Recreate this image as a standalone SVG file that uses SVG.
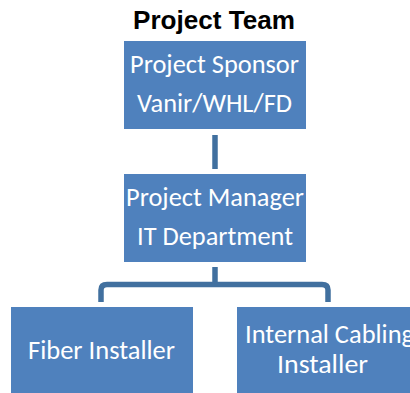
<svg xmlns="http://www.w3.org/2000/svg" width="410" height="393" viewBox="0 0 410 393">
  <style>
    .box { fill: #4F81BD; }
    .lbl { font-family: Carlito, "Open Sans", "Noto Sans", sans-serif; font-size: 26px; fill: #FFFFFF; }
    .title { font-family: "Liberation Sans", Arial, sans-serif; font-size: 25px; font-weight: bold; fill: #000000; }
    .conn { fill: none; stroke: #41709F; stroke-width: 5.5; stroke-linejoin: round; }
  </style>
  <rect width="410" height="393" fill="#FFFFFF"/>

  <text class="title" x="133" y="29" textLength="162" lengthAdjust="spacingAndGlyphs">Project Team</text>

  <g id="connectors">
    <line class="conn" x1="215" y1="135" x2="215" y2="169"/>
    <line class="conn" x1="215" y1="267" x2="215" y2="284"/>
    <path class="conn" d="M101 302 V290 Q101 284.5 107 284.5 H322 Q328 284.5 328 290 V302"/>
  </g>

  <g id="sponsor">
    <rect class="box" x="124" y="41" width="182" height="88"/>
    <text class="lbl" x="130" y="73" textLength="169" lengthAdjust="spacingAndGlyphs">Project Sponsor</text>
    <text class="lbl" x="137" y="112" textLength="155" lengthAdjust="spacingAndGlyphs">Vanir/WHL/FD</text>
  </g>

  <g id="manager">
    <rect class="box" x="124" y="174" width="182" height="88"/>
    <text class="lbl" x="126" y="206" textLength="178" lengthAdjust="spacingAndGlyphs">Project Manager</text>
    <text class="lbl" x="137" y="245" textLength="156" lengthAdjust="spacingAndGlyphs">IT Department</text>
  </g>

  <g id="fiber">
    <rect class="box" x="11" y="307" width="182" height="88"/>
    <text class="lbl" x="28" y="359" textLength="147" lengthAdjust="spacingAndGlyphs">Fiber Installer</text>
  </g>

  <g id="cabling">
    <rect class="box" x="237" y="307" width="182" height="88"/>
    <text class="lbl" x="245" y="343" textLength="169" lengthAdjust="spacingAndGlyphs">Internal Cabling</text>
    <text class="lbl" x="277" y="373" textLength="91" lengthAdjust="spacingAndGlyphs">Installer</text>
  </g>
</svg>
